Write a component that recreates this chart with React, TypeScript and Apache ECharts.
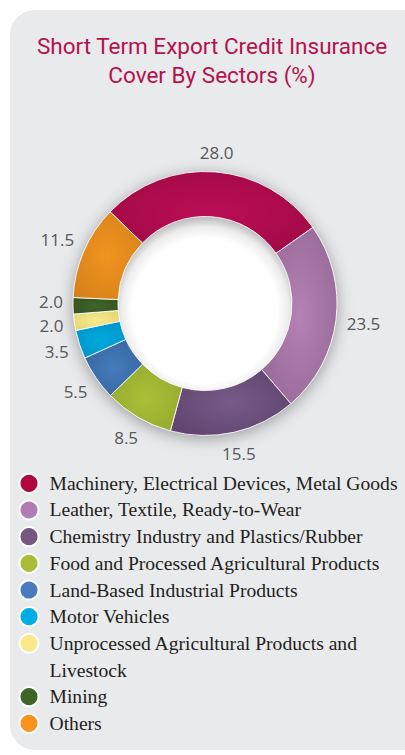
import React, { useEffect, useRef } from 'react';
import * as echarts from 'echarts';

// ---------- data ----------
const categories = [
  'Machinery, Electrical Devices, Metal Goods',
  'Leather, Textile, Ready-to-Wear',
  'Chemistry Industry and Plastics/Rubber',
  'Food and Processed Agricultural Products',
  'Land-Based Industrial Products',
  'Motor Vehicles',
  'Unprocessed Agricultural Products and Livestock',
  'Mining',
  'Others',
];
const shares = [28.0, 23.5, 15.5, 8.5, 5.5, 3.5, 2.0, 2.0, 11.5];
// legend text as printed (one entry wraps onto a second line)
const legendLabels = [
  'Machinery, Electrical Devices, Metal Goods',
  'Leather, Textile, Ready-to-Wear',
  'Chemistry Industry and Plastics/Rubber',
  'Food and Processed Agricultural Products',
  'Land-Based Industrial Products',
  'Motor Vehicles',
  'Unprocessed Agricultural Products and\nLivestock',
  'Mining',
  'Others',
];
const titleText = 'Short Term Export Credit Insurance\nCover By Sectors (%)';

// ---------- styles ----------
const sliceLight = ['#bb0e54', '#b482b4', '#775a88', '#abbf37', '#467bbb', '#00aade', '#f6ea8c', '#42652a', '#f1941f'];
const sliceDark = ['#95073f', '#8a5c8b', '#563b64', '#8aa02a', '#315c95', '#0089bd', '#dccb68', '#2e4a1c', '#c97816'];
const legendColors = ['#b0073f', '#b07cb3', '#75577f', '#a9bd38', '#4a7bc0', '#00aee5', '#f9e98a', '#3e6428', '#f7931e'];

const CENTER = [205, 303.5];
const R_IN = 87;
const R_OUT = 132;
const LABEL_GAP = 10;
const LABEL_MIN_SEP = 24;

const L = 26.67; // legend line height
const ICON_W = 19;
const ICON_H = 2 * L;
const twoLineIcon =
  `path://M${ICON_W / 2},1 M0,${L / 2} A${ICON_W / 2},${ICON_W / 2} 0 1,1 ${ICON_W},${L / 2} ` +
  `A${ICON_W / 2},${ICON_W / 2} 0 1,1 0,${L / 2} Z M${ICON_W / 2},${ICON_H - 1}`;

const radial = (i: number) => ({
  type: 'radial',
  x: 0.5,
  y: 0.5,
  r: 0.9,
  colorStops: [
    { offset: 0, color: sliceLight[i] },
    { offset: 1, color: sliceDark[i] },
  ],
});

// soft inner shadow of the hole (darker along its upper rim)
const holeFill = {
  type: 'radial',
  x: CENTER[0],
  y: CENTER[1] + 7,
  r: R_IN + 6,
  global: true,
  colorStops: [
    { offset: 0, color: '#ffffff' },
    { offset: 0.78, color: '#ffffff' },
    { offset: 0.9, color: '#ececec' },
    { offset: 1, color: '#bdbdbd' },
  ],
};

// label placement: centred on the slice's mid-angle ray, just outside the ring;
// a label that would collide with the previous one is moved on along its side.
const placed: Record<number, { x: number; y: number; side: number }> = {};
const labelLayout = (p: any) => {
  const pts = p.labelLinePoints;
  if (!pts || pts.length < 2) return {};
  const x1 = pts[0][0];
  const y1 = pts[0][1];
  let dx = pts[1][0] - x1;
  let dy = pts[1][1] - y1;
  const len = Math.hypot(dx, dy) || 1;
  dx /= len;
  dy /= len;
  const w = p.labelRect.width;
  const h = p.labelRect.height;
  const ext = LABEL_GAP + (Math.abs(dx) * w) / 2 + (Math.abs(dy) * h) / 2;
  const x = x1 + dx * ext;
  let y = y1 + dy * ext;
  const side = dx < 0 ? -1 : 1;
  const prev = placed[p.dataIndex - 1];
  if (prev && prev.side === side && Math.abs(prev.y - y) < LABEL_MIN_SEP && Math.abs(prev.x - x) < w) {
    y = prev.y + side * LABEL_MIN_SEP;
  }
  placed[p.dataIndex] = { x, y, side };
  return { x, y, align: 'center', verticalAlign: 'middle' };
};

const option: any = {
  animation: false,
  backgroundColor: '#ffffff',
  graphic: [
    {
      type: 'rect',
      silent: true,
      z: -10,
      shape: { x: 10, y: 10, width: 440, height: 740, r: 25 },
      style: { fill: '#e9eaec' },
    },
  ],
  title: {
    text: titleText,
    left: 212,
    top: 31.5,
    padding: 0,
    textAlign: 'center',
    textStyle: {
      fontFamily: 'Roboto',
      fontSize: 22.5,
      fontWeight: 'normal',
      color: '#b3124e',
      lineHeight: 29,
    },
  },
  legend: {
    orient: 'vertical',
    left: 18.5,
    top: 470,
    padding: 0,
    itemGap: 0,
    itemWidth: ICON_W,
    itemHeight: ICON_H,
    icon: 'circle',
    selectedMode: false,
    itemStyle: { borderColor: '#ffffff', borderWidth: 2 },
    textStyle: {
      fontFamily: 'Liberation Serif',
      fontSize: 19.6,
      color: '#231f20',
      lineHeight: L,
      padding: [0, 0, 0, 6],
    },
    formatter: (name: string) => legendLabels[categories.indexOf(name)],
    data: categories.map((name, i) => ({
      name,
      icon: i === 6 ? twoLineIcon : 'circle',
      itemStyle: { color: legendColors[i] },
    })),
  },
  series: [
    {
      type: 'pie',
      name: 'backdrop',
      silent: true,
      center: CENTER,
      radius: [0, R_OUT],
      data: [{ value: 1, name: '' }],
      label: { show: false },
      labelLine: { show: false },
      itemStyle: {
        color: holeFill,
        shadowBlur: 16,
        shadowColor: 'rgba(0,0,0,0.35)',
        shadowOffsetY: 3,
      },
      emphasis: { disabled: true },
      z: 1,
    },
    {
      type: 'pie',
      name: 'Cover by sector',
      center: CENTER,
      radius: [R_IN, R_OUT],
      startAngle: 136,
      clockwise: true,
      avoidLabelOverlap: false,
      data: categories.map((name, i) => ({
        name,
        value: shares[i],
        itemStyle: { color: radial(i) },
      })),
      itemStyle: { borderColor: 'rgba(255,255,255,0.85)', borderWidth: 1 },
      label: {
        show: true,
        position: 'outside',
        formatter: (p: any) => Number(p.value).toFixed(1),
        fontFamily: 'Open Sans',
        fontSize: 17,
        color: '#58585a',
      },
      labelLine: { show: true, length: 10, length2: 0, lineStyle: { opacity: 0, width: 0 } },
      labelLayout,
      emphasis: { disabled: true },
      z: 2,
    },
  ],
};

export default function App() {
  const ref = useRef<HTMLDivElement>(null);
  useEffect(() => {
    const chart = echarts.init(ref.current as HTMLDivElement, null, { renderer: 'svg' });
    chart.setOption(option);
    return () => chart.dispose();
  }, []);
  return (
    <div
      ref={ref}
      style={{ position: 'absolute', left: 0, top: 0, width: 405, height: 755 }}
    />
  );
}
